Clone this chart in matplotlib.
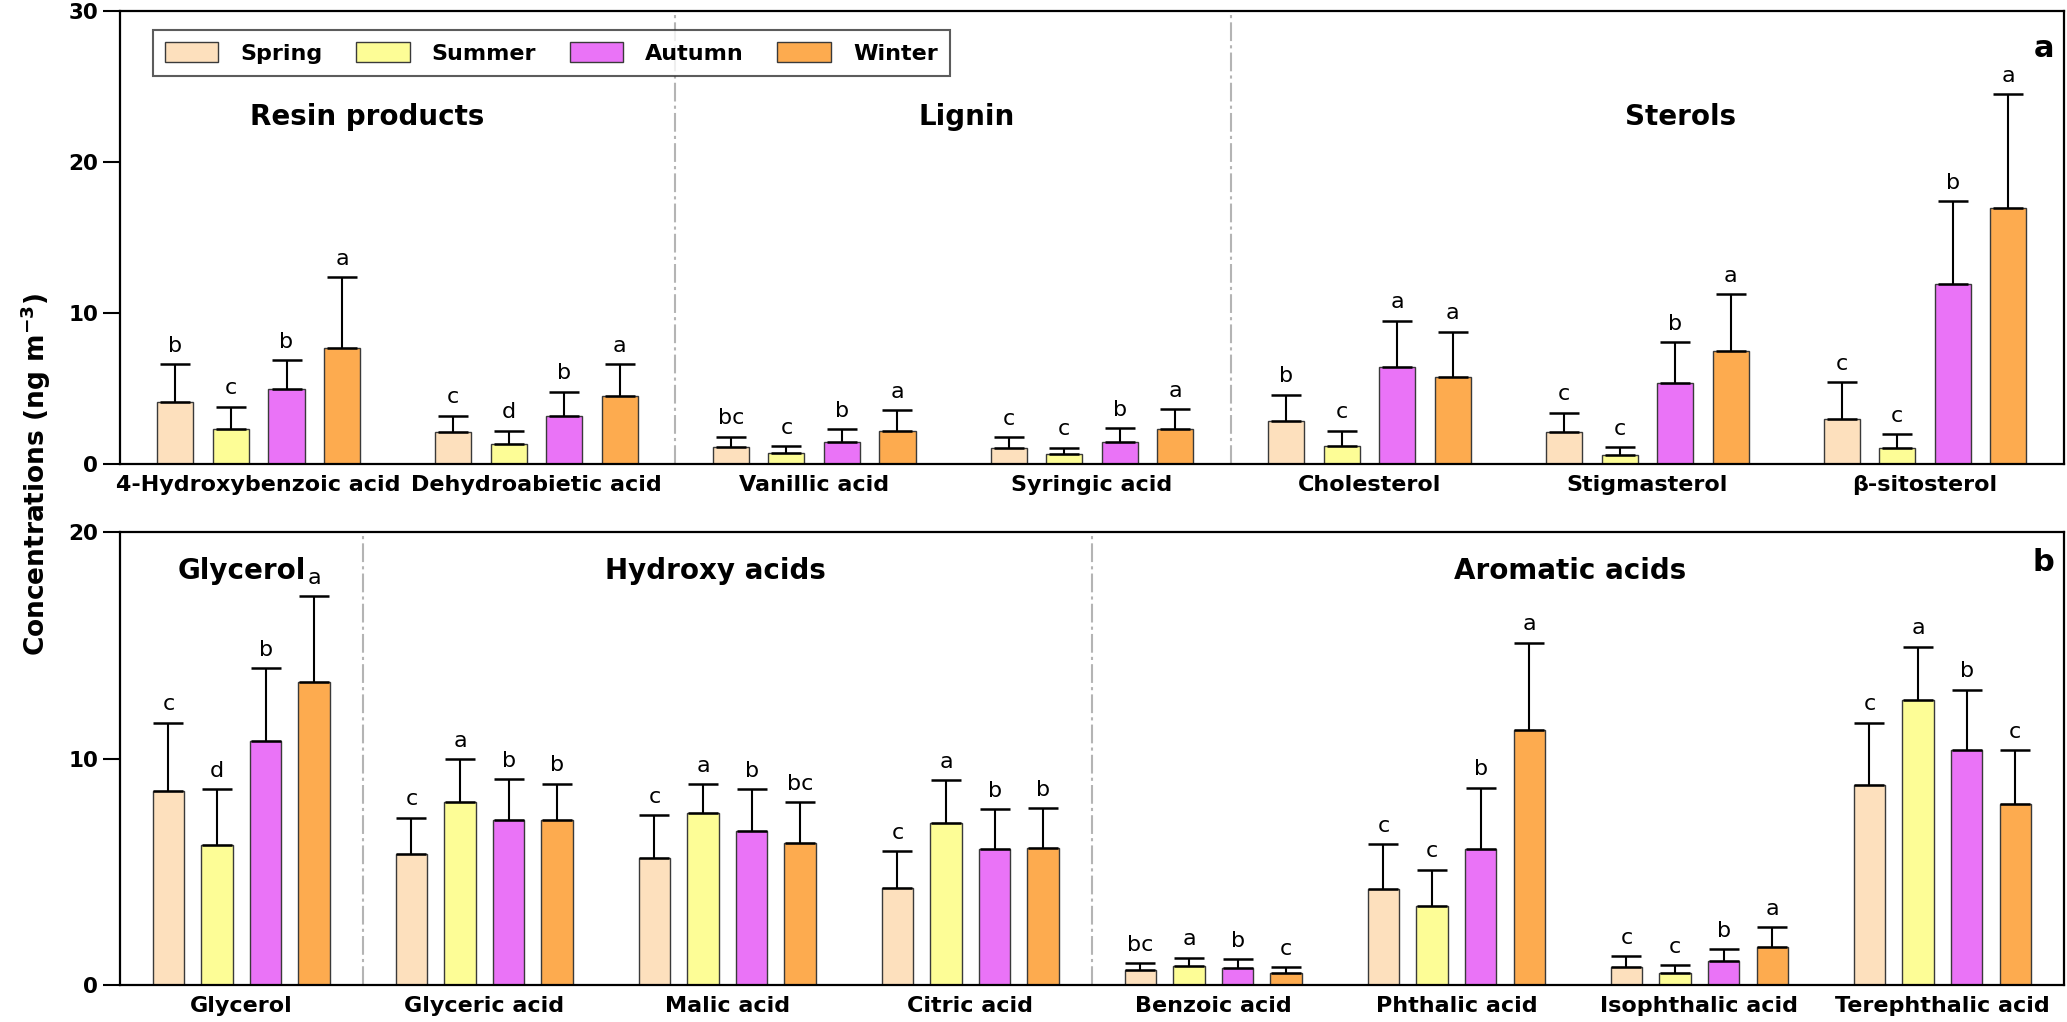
import numpy as np
import matplotlib
matplotlib.use('Agg')
import matplotlib.pyplot as plt

plt.rcParams['font.family'] = ['DejaVu Sans']

seasons = ['Spring', 'Summer', 'Autumn', 'Winter']
colors = ['#FDE0BD', '#FDFD96', '#EA73F7', '#FDAB4F']

# panel a
cats_a = ['4-Hydroxybenzoic acid', 'Dehydroabietic acid', 'Vanillic acid', 'Syringic acid',
          'Cholesterol', 'Stigmasterol', 'β-sitosterol']
mean_a = {
    'Spring': [4.1, 2.1, 1.13, 1.08, 2.87, 2.15, 3.0],
    'Summer': [2.3, 1.3, 0.75, 0.66, 1.21, 0.57, 1.06],
    'Autumn': [5.0, 3.2, 1.46, 1.48, 6.42, 5.35, 11.9],
    'Winter': [7.7, 4.5, 2.2, 2.32, 5.76, 7.47, 16.95],
}
sd_a = {
    'Spring': [2.5, 1.1, 0.67, 0.7, 1.72, 1.25, 2.4],
    'Summer': [1.5, 0.9, 0.45, 0.42, 0.99, 0.55, 0.92],
    'Autumn': [1.9, 1.6, 0.84, 0.88, 3.08, 2.73, 5.5],
    'Winter': [4.7, 2.1, 1.37, 1.32, 3.0, 3.78, 7.55],
}
sig_a = {
    'Spring': ['b', 'c', 'bc', 'c', 'b', 'c', 'c'],
    'Summer': ['c', 'd', 'c', 'c', 'c', 'c', 'c'],
    'Autumn': ['b', 'b', 'b', 'b', 'a', 'b', 'b'],
    'Winter': ['a', 'a', 'a', 'a', 'a', 'a', 'a'],
}
groups_a = [('Resin products', 0.39), ('Lignin', 2.55), ('Sterols', 5.12)]
sep_a = [1.5, 3.5]

# panel b
cats_b = ['Glycerol', 'Glyceric acid', 'Malic acid', 'Citric acid', 'Benzoic acid',
          'Phthalic acid', 'Isophthalic acid', 'Terephthalic acid']
mean_b = {
    'Spring': [8.56, 5.78, 5.63, 4.28, 0.65, 4.25, 0.8, 8.85],
    'Summer': [6.2, 8.1, 7.6, 7.16, 0.87, 3.5, 0.56, 12.6],
    'Autumn': [10.8, 7.28, 6.83, 6.03, 0.75, 6.01, 1.05, 10.4],
    'Winter': [13.4, 7.3, 6.28, 6.07, 0.53, 11.28, 1.7, 8.02],
}
sd_b = {
    'Spring': [3.04, 1.62, 1.87, 1.63, 0.32, 1.97, 0.49, 2.75],
    'Summer': [2.47, 1.9, 1.29, 1.89, 0.34, 1.61, 0.33, 2.35],
    'Autumn': [3.2, 1.82, 1.84, 1.74, 0.4, 2.72, 0.55, 2.65],
    'Winter': [3.8, 1.6, 1.82, 1.76, 0.28, 3.85, 0.87, 2.35],
}
sig_b = {
    'Spring': ['c', 'c', 'c', 'c', 'bc', 'c', 'c', 'c'],
    'Summer': ['d', 'a', 'a', 'a', 'a', 'c', 'c', 'a'],
    'Autumn': ['b', 'b', 'b', 'b', 'b', 'b', 'b', 'b'],
    'Winter': ['a', 'b', 'bc', 'b', 'c', 'a', 'a', 'c'],
}
groups_b = [('Glycerol', 0.0), ('Hydroxy acids', 1.95), ('Aromatic acids', 5.47)]
sep_b = [0.5, 3.5]


def draw_panel(ax, cats, means, sds, sigs, groups, seps, ymax, title_y, panel_label, label_y):
    x = np.arange(len(cats))
    width = 0.13
    step = 0.2
    for i, s in enumerate(seasons):
        pos = x + (i - 1.5) * step
        m = np.array(means[s])
        e = np.array(sds[s])
        ax.bar(pos, m, width, color=colors[i], edgecolor='#3a3a3a', linewidth=1.0,
               label=s, zorder=2)
        ax.errorbar(pos, m, yerr=[np.zeros_like(e), e], fmt='none', ecolor='black',
                    elinewidth=1.5, capsize=11, capthick=1.8, zorder=3)
        for p, top, lab in zip(pos, m + e, sigs[s]):
            ax.annotate(lab, (p, top), xytext=(0, 6), textcoords='offset points',
                        ha='center', va='bottom', fontsize=16)

    for sx in seps:
        ax.axvline(sx, color='#b4b4b4', linewidth=1.5, linestyle=(0, (9, 2, 1.5, 2)), zorder=1)

    for name, gx in groups:
        ax.text(gx, title_y, name, ha='center', va='center', fontsize=20, fontweight='bold')

    ax.text(0.995, label_y, panel_label, transform=ax.transAxes, ha='right', va='center',
            fontsize=22, fontweight='bold')

    ax.set_xlim(-0.5, len(cats) - 0.5)
    ax.set_ylim(0, ymax)
    ax.set_yticks(np.arange(0, ymax + 1, 10))
    ax.set_xticks(x)
    ax.set_xticklabels(cats, fontsize=16, fontweight='bold')
    ax.tick_params(axis='x', length=0, pad=8)
    ax.tick_params(axis='y', direction='out', length=12, width=1.5, labelsize=15.5)
    for lab in ax.get_yticklabels():
        lab.set_fontweight('bold')
    for sp in ax.spines.values():
        sp.set_linewidth(1.6)


fig = plt.figure(figsize=(20.67, 10.22), dpi=100)
ax_a = fig.add_axes([0.058, 0.546, 0.9405, 0.443])
ax_b = fig.add_axes([0.058, 0.036, 0.9405, 0.443])

draw_panel(ax_a, cats_a, mean_a, sd_a, sig_a, groups_a, sep_a, 30, 23.0, 'a', 0.918)
draw_panel(ax_b, cats_b, mean_b, sd_b, sig_b, groups_b, sep_b, 20, 18.3, 'b', 0.934)

leg = ax_a.legend(loc='upper left', bbox_to_anchor=(0.017, 0.958), ncol=4, frameon=True,
                  fancybox=False, edgecolor='#333333', borderaxespad=0, borderpad=0.55,
                  handlelength=2.4, handleheight=0.95, handletextpad=1.0, columnspacing=1.5,
                  prop={'size': 16, 'weight': 'bold'})
leg.get_frame().set_linewidth(1.5)

fig.text(0.009, 0.536, 'Concentrations (ng m$^{\\mathbf{-3}}$)', rotation=90, ha='left', va='center',
         fontsize=19, fontweight='bold')

fig.savefig('out.png', dpi=100)
